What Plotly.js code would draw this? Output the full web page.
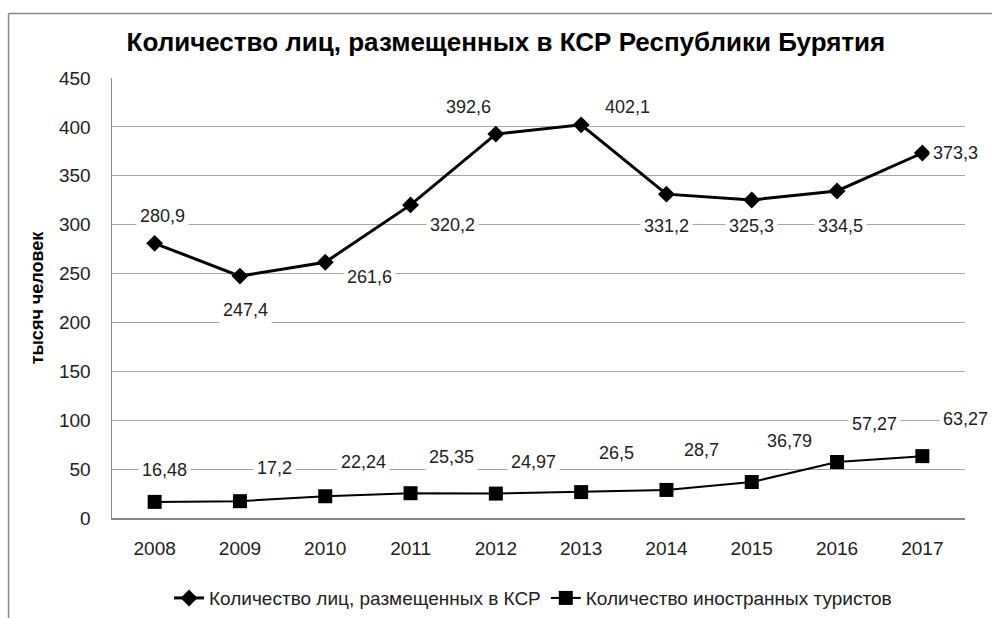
<!DOCTYPE html>
<html><head><meta charset="utf-8">
<script src="https://cdn.plot.ly/plotly-3.0.1.min.js"></script>
<style>html,body{margin:0;padding:0;background:#fff}#chart{width:992px;height:618px}</style>
</head><body><div id="chart"></div>
<script>
const years = ['2008','2009','2010','2011','2012','2013','2014','2015','2016','2017'];
const placed = [280.9, 247.4, 261.6, 320.2, 392.6, 402.1, 331.2, 325.3, 334.5, 373.3];
const foreign = [16.48, 17.2, 22.24, 25.35, 24.97, 26.5, 28.7, 36.79, 57.27, 63.27];
const seriesNames = ['Количество лиц, размещенных в КСР', 'Количество иностранных туристов'];
const yTicks = [0, 50, 100, 150, 200, 250, 300, 350, 400, 450];

// label offsets (pixels) — styling only
const off1 = [[8,27],[6,-34],[44,-15],[42,-20],[-27,27],[46,18],[0,-32],[0,-26],[3,-35],[33,0]];
const off2 = [[10,32],[35,33],[38,34],[41,36],[38,32],[35,39],[35,40],[38,41],[37,38],[43,37]];

const fmt = v => String(v).replace('.', ',');
const font = 'Liberation Sans, Arial, sans-serif';

const traces = [
  {x: years, y: placed, name: seriesNames[0], type: 'scatter', mode: 'lines+markers',
   line: {color: '#000', width: 3}, marker: {symbol: 'diamond', size: 13, color: '#000'}},
  {x: years, y: foreign, name: seriesNames[1], type: 'scatter', mode: 'lines+markers',
   line: {color: '#000', width: 2}, marker: {symbol: 'square', size: 14, color: '#000'}}
];

const annotations = [];
placed.forEach((v, i) => annotations.push({xref: 'x', yref: 'y', x: i, y: v, text: fmt(v), showarrow: false,
  xshift: off1[i][0], yshift: off1[i][1], bgcolor: '#fff', borderpad: 3,
  font: {family: font, size: 18, color: '#222'}}));
foreign.forEach((v, i) => annotations.push({xref: 'x', yref: 'y', x: i, y: v, text: fmt(v), showarrow: false,
  xshift: off2[i][0], yshift: off2[i][1], bgcolor: '#fff', borderpad: 3,
  font: {family: font, size: 18, color: '#222'}}));

const layout = {
  width: 992, height: 618,
  margin: {l: 112, r: 27, t: 78, b: 100, autoexpand: false},
  paper_bgcolor: '#fff', plot_bgcolor: '#fff',
  font: {family: font, size: 18, color: '#222'},
  title: {text: '<b>Количество лиц, размещенных в КСР Республики Бурятия</b>',
    font: {family: font, size: 26, color: '#000'},
    x: 0.51, xanchor: 'center', xref: 'container', y: 0.932, yanchor: 'middle', yref: 'container'},
  xaxis: {type: 'category', range: [-0.5, 9.5], showgrid: false, showline: true,
    linecolor: '#888', linewidth: 1.5, ticks: '', ticklabelstandoff: 13,
    tickfont: {family: font, size: 19, color: '#222'}, zeroline: false, fixedrange: true},
  yaxis: {range: [0, 450], tickvals: yTicks, ticktext: yTicks.map(String), showgrid: true,
    gridcolor: '#a6a6a6', gridwidth: 1.2, showline: true, linecolor: '#888', linewidth: 1.5,
    ticks: '', ticklabelstandoff: 16, zeroline: false,
    tickfont: {family: font, size: 19, color: '#222'},
    title: {text: '<b>тысяч человек</b>', font: {family: font, size: 18, color: '#000'}, standoff: 10}},
  legend: {orientation: 'h', x: 0.4936, xanchor: 'center', y: -0.182, yanchor: 'middle',
    font: {family: font, size: 19, color: '#222'}, bgcolor: 'rgba(0,0,0,0)'},
  showlegend: true,
  annotations: annotations,
  shapes: [
    {type: 'line', xref: 'paper', yref: 'paper', x0: -0.1213, x1: -0.1213, y0: -0.3, y1: 1.1466,
     line: {color: '#888', width: 1.5}},
    {type: 'line', xref: 'paper', yref: 'paper', x0: -0.1213, x1: 1.1, y0: 1.1466, y1: 1.1466,
     line: {color: '#888', width: 1.5}}
  ]
};

Plotly.newPlot('chart', traces, layout, {displayModeBar: false, staticPlot: true});
</script></body></html>
